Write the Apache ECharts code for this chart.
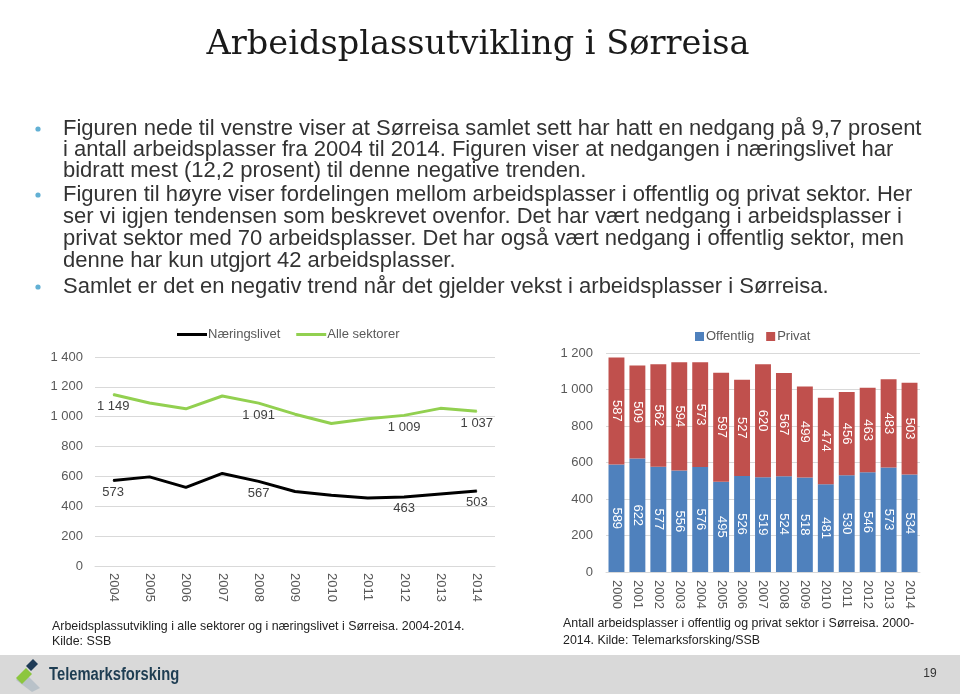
<!DOCTYPE html>
<html>
<head>
<meta charset="utf-8">
<script src="https://cdn.jsdelivr.net/npm/echarts@6/dist/echarts.min.js"></script>
<style>
html,body{margin:0;padding:0;background:#fff;}
#c{width:960px;height:694px;}
</style>
</head>
<body>
<div id="c"></div>
<script>
// ---- Data ----
const barYears = ['2000','2001','2002','2003','2004','2005','2006','2007','2008','2009','2010','2011','2012','2013','2014'];
const offentlig = [589,622,577,556,576,495,526,519,524,518,481,530,546,573,534];
const privat = [587,509,562,594,573,597,527,620,567,499,474,456,463,483,503];
const lineYears = ['2004','2005','2006','2007','2008','2009','2010','2011','2012','2013','2014'];
const alleSektorer = [1149,1092,1053,1139,1091,1017,955,986,1009,1056,1037];
const naeringslivet = [573,597,527,620,567,499,474,456,463,483,503];
const labeledPoints = [0,4,8,10];
const leftTicks = [0,200,400,600,800,1000,1200,1400];
const rightTicks = [0,200,400,600,800,1000,1200];

const titleText = 'Arbeidsplassutvikling i Sørreisa';
const bulletLines = [
  {t:'Figuren nede til venstre viser at Sørreisa samlet sett har hatt en nedgang på 9,7 prosent', b:true},
  {t:'i antall arbeidsplasser fra 2004 til 2014. Figuren viser at nedgangen i næringslivet har', b:false},
  {t:'bidratt mest (12,2 prosent) til denne negative trenden.', b:false},
  {t:'Figuren til høyre viser fordelingen mellom arbeidsplasser i offentlig og privat sektor. Her', b:true},
  {t:'ser vi igjen tendensen som beskrevet ovenfor. Det har vært nedgang i arbeidsplasser i', b:false},
  {t:'privat sektor med 70 arbeidsplasser. Det har også vært nedgang i offentlig sektor, men', b:false},
  {t:'denne har kun utgjort 42 arbeidsplasser.', b:false},
  {t:'Samlet er det en negativ trend når det gjelder vekst i arbeidsplasser i Sørreisa.', b:true}
];
const bulletY = [129,150,171,195,217,239,261,287];
const captionLeft = ['Arbeidsplassutvikling i alle sektorer og i næringslivet i Sørreisa. 2004-2014.','Kilde: SSB'];
const captionRight = ['Antall arbeidsplasser i offentlig og privat sektor i Sørreisa. 2000-','2014. Kilde: Telemarksforsking/SSB'];

// ---- Helpers ----
const fmt = v => String(v).replace(/\B(?=(\d{3})+(?!\d))/g, ' ');
const axisGray = '#595959';
const gridGray = '#d9d9d9';
const sans = '"Liberation Sans", Arial, sans-serif';

const graphics = [];
graphics.push({type:'text', style:{text:titleText, x:478, y:45, align:'center', verticalAlign:'middle', font:'33.6px "DejaVu Serif", Georgia, serif', fill:'#1a1a1a'}});
bulletLines.forEach((l,i)=>{
  if (l.b) graphics.push({type:'circle', shape:{cx:38, cy:bulletY[i], r:2.6}, style:{fill:'#62b0d4'}});
  graphics.push({type:'text', style:{text:l.t, x:63, y:bulletY[i], verticalAlign:'middle', font:'22px ' + sans, fill:'#333333'}});
});
captionLeft.forEach((t,i)=>graphics.push({type:'text', style:{text:t, x:52, y:627+i*15, verticalAlign:'middle', font:'12.4px ' + sans, fill:'#222'}}));
captionRight.forEach((t,i)=>graphics.push({type:'text', style:{text:t, x:563, y:624+i*17, verticalAlign:'middle', font:'12.4px ' + sans, fill:'#222'}}));
// footer
graphics.push({type:'rect', shape:{x:0, y:655, width:960, height:39}, style:{fill:'#d9d9d9'}, z:-1});
graphics.push({type:'polygon', shape:{points:[[16,680],[24,672],[40,688],[32,692]]}, style:{fill:'#b9c2c9'}});
graphics.push({type:'polygon', shape:{points:[[16,678],[26,668],[32,674],[22,684]]}, style:{fill:'#8cc63f'}});
graphics.push({type:'polygon', shape:{points:[[26,666],[33,659],[38,664],[31,671]]}, style:{fill:'#1f3b57'}});
graphics.push({type:'text', position:[49,675], scaleX:0.82, style:{text:'Telemarksforsking', x:0, y:0, verticalAlign:'middle', font:'bold 18px ' + sans, fill:'#1e3d52'}});
graphics.push({type:'text', style:{text:'19', x:930, y:674, align:'center', verticalAlign:'middle', font:'12px ' + sans, fill:'#333'}});

const lineLabel = {show:true, position:'bottom', distance:5, fontSize:13, color:'#404040', fontFamily:sans, formatter:p=>fmt(p.value)};
const mkLineData = arr => arr.map((v,i)=> labeledPoints.includes(i) ? {value:v, label:lineLabel} : {value:v});

const option = {
  animation:false,
  backgroundColor:'#fff',
  textStyle:{fontFamily:sans},
  graphic:graphics,
  legend:[
    {data:['Næringslivet','Alle sektorer'], left:172, top:323, icon:'rect', itemWidth:30, itemHeight:3, itemGap:16,
     textStyle:{color:axisGray, fontSize:13, fontFamily:sans, padding:[0,0,0,-4]}},
    {data:['Offentlig','Privat'], left:690, top:325, icon:'rect', itemWidth:9, itemHeight:9, itemGap:12,
     textStyle:{color:axisGray, fontSize:13, fontFamily:sans, padding:[0,0,0,-3]}}
  ],
  grid:[
    {left:95, right:465, top:357, bottom:128},
    {left:606, right:40, top:353, bottom:122}
  ],
  xAxis:[
    {type:'category', gridIndex:0, data:lineYears, boundaryGap:true,
     axisLine:{lineStyle:{color:gridGray}}, axisTick:{show:false},
     axisLabel:{rotate:-90, margin:7, color:axisGray, fontSize:13, fontFamily:sans}},
    {type:'category', gridIndex:1, data:barYears,
     axisLine:{lineStyle:{color:gridGray}}, axisTick:{show:false},
     axisLabel:{rotate:-90, margin:8, color:axisGray, fontSize:13, fontFamily:sans}}
  ],
  yAxis:[
    {type:'value', gridIndex:0, min:leftTicks[0], max:leftTicks[leftTicks.length-1], interval:200,
     axisLine:{show:false}, axisTick:{show:false},
     splitLine:{lineStyle:{color:gridGray}},
     axisLabel:{margin:12, color:axisGray, fontSize:13, fontFamily:sans, formatter:v=>fmt(v)}},
    {type:'value', gridIndex:1, min:rightTicks[0], max:rightTicks[rightTicks.length-1], interval:200,
     axisLine:{show:false}, axisTick:{show:false},
     splitLine:{lineStyle:{color:gridGray}},
     axisLabel:{margin:13, color:axisGray, fontSize:13, fontFamily:sans, formatter:v=>fmt(v)}}
  ],
  series:[
    {name:'Næringslivet', type:'line', xAxisIndex:0, yAxisIndex:0, data:mkLineData(naeringslivet),
     symbol:'circle', symbolSize:1, showSymbol:true, lineStyle:{color:'#000', width:3}, itemStyle:{color:'#000'}},
    {name:'Alle sektorer', type:'line', xAxisIndex:0, yAxisIndex:0, data:mkLineData(alleSektorer),
     symbol:'circle', symbolSize:1, showSymbol:true, lineStyle:{color:'#92D050', width:3}, itemStyle:{color:'#92D050'}},
    {name:'Offentlig', type:'bar', xAxisIndex:1, yAxisIndex:1, stack:'tot', data:offentlig, barCategoryGap:'24%',
     itemStyle:{color:'#4F81BD'},
     label:{show:true, position:'inside', rotate:-90, color:'#fff', fontSize:13, fontFamily:sans}},
    {name:'Privat', type:'bar', xAxisIndex:1, yAxisIndex:1, stack:'tot', data:privat, barCategoryGap:'24%',
     itemStyle:{color:'#C0504D'},
     label:{show:true, position:'inside', rotate:-90, color:'#fff', fontSize:13, fontFamily:sans}}
  ]
};
const chart = echarts.init(document.getElementById('c'), null, {renderer:'canvas'});
chart.setOption(option);
</script>
</body>
</html>
